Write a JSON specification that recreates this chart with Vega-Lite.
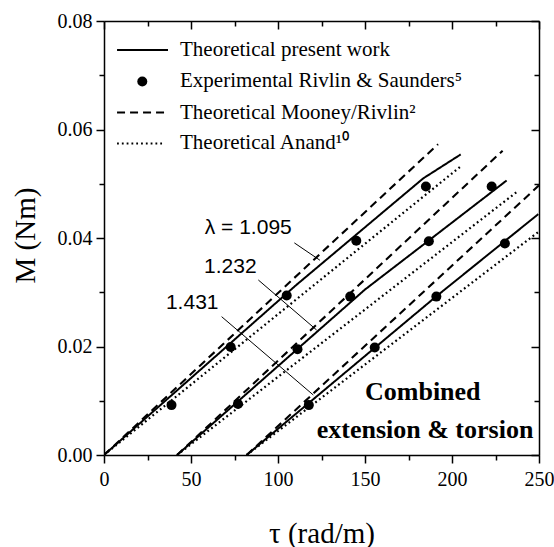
{
  "$schema": "https://vega.github.io/schema/vega-lite/v6.json",
  "width": 435,
  "height": 434,
  "autosize": {"type": "none"},
  "padding": {"left": 104, "top": 21, "right": 15, "bottom": 92},
  "background": "white",
  "config": {
    "view": {"stroke": null},
    "font": "Liberation Serif",
    "axis": {"grid": false, "labelFont": "Liberation Serif", "titleFont": "Liberation Serif"},
    "text": {"font": "Liberation Serif"}
  },
  "datasets": {
    "curves": [
      {"curve": "present-1.095", "model": "present", "tau": 0, "M": 0},
      {"curve": "present-1.095", "model": "present", "tau": 110, "M": 0.0312},
      {"curve": "present-1.095", "model": "present", "tau": 183.5, "M": 0.051},
      {"curve": "present-1.095", "model": "present", "tau": 205, "M": 0.0554},
      {"curve": "mooney-1.095", "model": "mooney", "tau": 0, "M": 0},
      {"curve": "mooney-1.095", "model": "mooney", "tau": 192, "M": 0.0573},
      {"curve": "anand-1.095", "model": "anand", "tau": 0, "M": 0},
      {"curve": "anand-1.095", "model": "anand", "tau": 204.6, "M": 0.0531},
      {"curve": "present-1.232", "model": "present", "tau": 42, "M": 0},
      {"curve": "present-1.232", "model": "present", "tau": 112.8, "M": 0.02},
      {"curve": "present-1.232", "model": "present", "tau": 150, "M": 0.0305},
      {"curve": "present-1.232", "model": "present", "tau": 186.5, "M": 0.0395},
      {"curve": "present-1.232", "model": "present", "tau": 231.4, "M": 0.0506},
      {"curve": "mooney-1.232", "model": "mooney", "tau": 42, "M": 0},
      {"curve": "mooney-1.232", "model": "mooney", "tau": 229.1, "M": 0.0561},
      {"curve": "anand-1.232", "model": "anand", "tau": 42, "M": 0},
      {"curve": "anand-1.232", "model": "anand", "tau": 238.1, "M": 0.0487},
      {"curve": "present-1.431", "model": "present", "tau": 82, "M": 0},
      {"curve": "present-1.431", "model": "present", "tau": 190.8, "M": 0.0292},
      {"curve": "present-1.431", "model": "present", "tau": 249.6, "M": 0.0444},
      {"curve": "mooney-1.431", "model": "mooney", "tau": 82, "M": 0},
      {"curve": "mooney-1.431", "model": "mooney", "tau": 250, "M": 0.0497},
      {"curve": "anand-1.431", "model": "anand", "tau": 82, "M": 0},
      {"curve": "anand-1.431", "model": "anand", "tau": 250, "M": 0.0412}
    ],
    "exp": [
      {"lambda": "1.095", "tau": 38.8, "M": 0.0092},
      {"lambda": "1.095", "tau": 72.8, "M": 0.0199},
      {"lambda": "1.095", "tau": 105, "M": 0.0294},
      {"lambda": "1.095", "tau": 145, "M": 0.0395},
      {"lambda": "1.095", "tau": 185, "M": 0.0495},
      {"lambda": "1.232", "tau": 77, "M": 0.0094},
      {"lambda": "1.232", "tau": 111.2, "M": 0.0195},
      {"lambda": "1.232", "tau": 141.5, "M": 0.0292},
      {"lambda": "1.232", "tau": 186.7, "M": 0.0394},
      {"lambda": "1.232", "tau": 222.8, "M": 0.0495},
      {"lambda": "1.431", "tau": 117.7, "M": 0.0092},
      {"lambda": "1.431", "tau": 155.6, "M": 0.0198},
      {"lambda": "1.431", "tau": 191, "M": 0.0292},
      {"lambda": "1.431", "tau": 230.4, "M": 0.039}
    ],
    "legendLines": [
      {"model": "present", "tau": 7.5, "M": 0.07465},
      {"model": "present", "tau": 36.8, "M": 0.07465},
      {"model": "mooney", "tau": 7.5, "M": 0.06313},
      {"model": "mooney", "tau": 36.8, "M": 0.06313},
      {"model": "anand", "tau": 7.5, "M": 0.05742},
      {"model": "anand", "tau": 35, "M": 0.05742}
    ],
    "legendPoint": [
      {"tau": 22, "M": 0.06885}
    ],
    "legendText": [
      {"text": "Theoretical present work", "tau": 43.7, "M": 0.07465},
      {"text": "Experimental Rivlin & Saunders⁵", "tau": 43.7, "M": 0.06885},
      {"text": "Theoretical Mooney/Rivlin²", "tau": 43.7, "M": 0.06313},
      {"text": "Theoretical Anand¹⁰", "tau": 43.7, "M": 0.05742}
    ],
    "leaders": [
      {"id": "a", "tau": 109.4, "M": 0.0391},
      {"id": "a", "tau": 124.1, "M": 0.0359},
      {"id": "b", "tau": 88.7, "M": 0.03226},
      {"id": "b", "tau": 122.2, "M": 0.02304},
      {"id": "c", "tau": 67.6, "M": 0.0255},
      {"id": "c", "tau": 120.3, "M": 0.01106}
    ],
    "labelsSans": [
      {"text": "λ = 1.095", "tau": 82.9, "M": 0.0418},
      {"text": "1.232", "tau": 72.6, "M": 0.0347},
      {"text": "1.431", "tau": 50.7, "M": 0.02796}
    ],
    "labelsBold": [
      {"text": "Combined", "tau": 183.2, "M": 0.01167},
      {"text": "extension & torsion", "tau": 184.5, "M": 0.0046}
    ]
  },
  "resolve": {"axis": {"x": "independent", "y": "independent"}},
  "layer": [
    {
      "data": {"name": "curves"},
      "mark": {"type": "line", "color": "black", "clip": true},
      "encoding": {
        "x": {
          "field": "tau", "type": "quantitative",
          "scale": {"domain": [0, 250], "nice": false, "zero": false},
          "axis": {
            "orient": "bottom",
            "title": "τ (rad/m)",
            "values": [0, 25, 50, 75, 100, 125, 150, 175, 200, 225, 250],
            "labelExpr": "datum.value % 50 == 0 ? datum.label : ''",
            "format": "d",
            "labelOverlap": false,
            "labelFlush": false,
            "tickSize": {"condition": {"test": "datum.value % 50 == 0", "value": 8}, "value": 5},
            "tickWidth": 1.5,
            "tickColor": "black",
            "domainColor": "black",
            "domainWidth": 1.5,
            "labelColor": "black",
            "labelFont": "Liberation Serif",
            "labelFontSize": 20,
            "labelPadding": 6,
            "titleFont": "Liberation Serif",
            "titleFontSize": 29,
            "titleFontWeight": "normal",
            "titleColor": "black",
            "titleX": 217.5,
            "titleY": 78,
            "titleBaseline": "middle",
            "titleAlign": "center"
          }
        },
        "y": {
          "field": "M", "type": "quantitative",
          "scale": {"domain": [0, 0.08], "nice": false, "zero": false},
          "axis": {
            "orient": "left",
            "title": "M (Nm)",
            "values": [0, 0.01, 0.02, 0.03, 0.04, 0.05, 0.06, 0.07, 0.08],
            "labelExpr": "round(datum.value*100) % 2 == 0 ? format(datum.value, '.2f') : ''",
            "labelOverlap": false,
            "labelFlush": false,
            "tickSize": {"condition": {"test": "round(datum.value*100) % 2 == 0", "value": 8}, "value": 5},
            "tickWidth": 1.5,
            "tickColor": "black",
            "domainColor": "black",
            "domainWidth": 1.5,
            "labelColor": "black",
            "labelFont": "Liberation Serif",
            "labelFontSize": 20,
            "labelPadding": 4,
            "titleFont": "Liberation Serif",
            "titleFontSize": 29,
            "titleFontWeight": "normal",
            "titleColor": "black",
            "titleX": -79,
            "titleY": 214,
            "titleAngle": 270,
            "titleBaseline": "middle",
            "titleAlign": "center"
          }
        },
        "detail": {"field": "curve"},
        "strokeDash": {
          "field": "model", "type": "nominal",
          "scale": {"domain": ["present", "mooney", "anand"], "range": [[1, 0], [8, 5], [1.8, 3]]},
          "legend": null
        },
        "strokeWidth": {
          "field": "model", "type": "nominal",
          "scale": {"domain": ["present", "mooney", "anand"], "range": [2, 2.2, 2.2]},
          "legend": null
        }
      }
    },
    {
      "data": {"name": "exp"},
      "mark": {"type": "point", "filled": true, "shape": "circle", "color": "black", "size": 100, "opacity": 1},
      "encoding": {
        "x": {
          "field": "tau", "type": "quantitative",
          "axis": {
            "orient": "top", "title": null, "labels": false,
            "values": [0, 25, 50, 75, 100, 125, 150, 175, 200, 225, 250],
            "tickSize": {"condition": {"test": "datum.value % 50 == 0", "value": -8}, "value": -5},
            "tickWidth": 1.5, "tickColor": "black", "domainColor": "black", "domainWidth": 1.5
          }
        },
        "y": {
          "field": "M", "type": "quantitative",
          "axis": {
            "orient": "right", "title": null, "labels": false,
            "values": [0, 0.01, 0.02, 0.03, 0.04, 0.05, 0.06, 0.07, 0.08],
            "tickSize": {"condition": {"test": "round(datum.value*100) % 2 == 0", "value": -8}, "value": -5},
            "tickWidth": 1.5, "tickColor": "black", "domainColor": "black", "domainWidth": 1.5
          }
        }
      }
    },
    {
      "data": {"name": "legendLines"},
      "mark": {"type": "line", "color": "black"},
      "encoding": {
        "x": {"field": "tau", "type": "quantitative", "axis": null},
        "y": {"field": "M", "type": "quantitative", "axis": null},
        "detail": {"field": "model"},
        "strokeDash": {
          "field": "model", "type": "nominal",
          "scale": {"domain": ["present", "mooney", "anand"], "range": [[1, 0], [8, 5], [1.8, 3]]},
          "legend": null
        },
        "strokeWidth": {
          "field": "model", "type": "nominal",
          "scale": {"domain": ["present", "mooney", "anand"], "range": [2, 2.2, 2.2]},
          "legend": null
        }
      }
    },
    {
      "data": {"name": "legendPoint"},
      "mark": {"type": "point", "filled": true, "shape": "circle", "color": "black", "size": 100, "opacity": 1},
      "encoding": {
        "x": {"field": "tau", "type": "quantitative", "axis": null},
        "y": {"field": "M", "type": "quantitative", "axis": null}
      }
    },
    {
      "data": {"name": "legendText"},
      "mark": {"type": "text", "align": "left", "baseline": "middle", "font": "Liberation Serif", "fontSize": 21, "color": "black"},
      "encoding": {
        "x": {"field": "tau", "type": "quantitative", "axis": null},
        "y": {"field": "M", "type": "quantitative", "axis": null},
        "text": {"field": "text"}
      }
    },
    {
      "data": {"name": "leaders"},
      "mark": {"type": "line", "color": "black", "strokeWidth": 1},
      "encoding": {
        "x": {"field": "tau", "type": "quantitative", "axis": null},
        "y": {"field": "M", "type": "quantitative", "axis": null},
        "detail": {"field": "id"}
      }
    },
    {
      "data": {"name": "labelsSans"},
      "mark": {"type": "text", "align": "center", "baseline": "middle", "font": "Liberation Sans", "fontSize": 21, "color": "black"},
      "encoding": {
        "x": {"field": "tau", "type": "quantitative", "axis": null},
        "y": {"field": "M", "type": "quantitative", "axis": null},
        "text": {"field": "text"}
      }
    },
    {
      "data": {"name": "labelsBold"},
      "mark": {"type": "text", "align": "center", "baseline": "middle", "font": "Liberation Serif", "fontSize": 26, "fontWeight": "bold", "color": "black"},
      "encoding": {
        "x": {"field": "tau", "type": "quantitative", "axis": null},
        "y": {"field": "M", "type": "quantitative", "axis": null},
        "text": {"field": "text"}
      }
    }
  ]
}
